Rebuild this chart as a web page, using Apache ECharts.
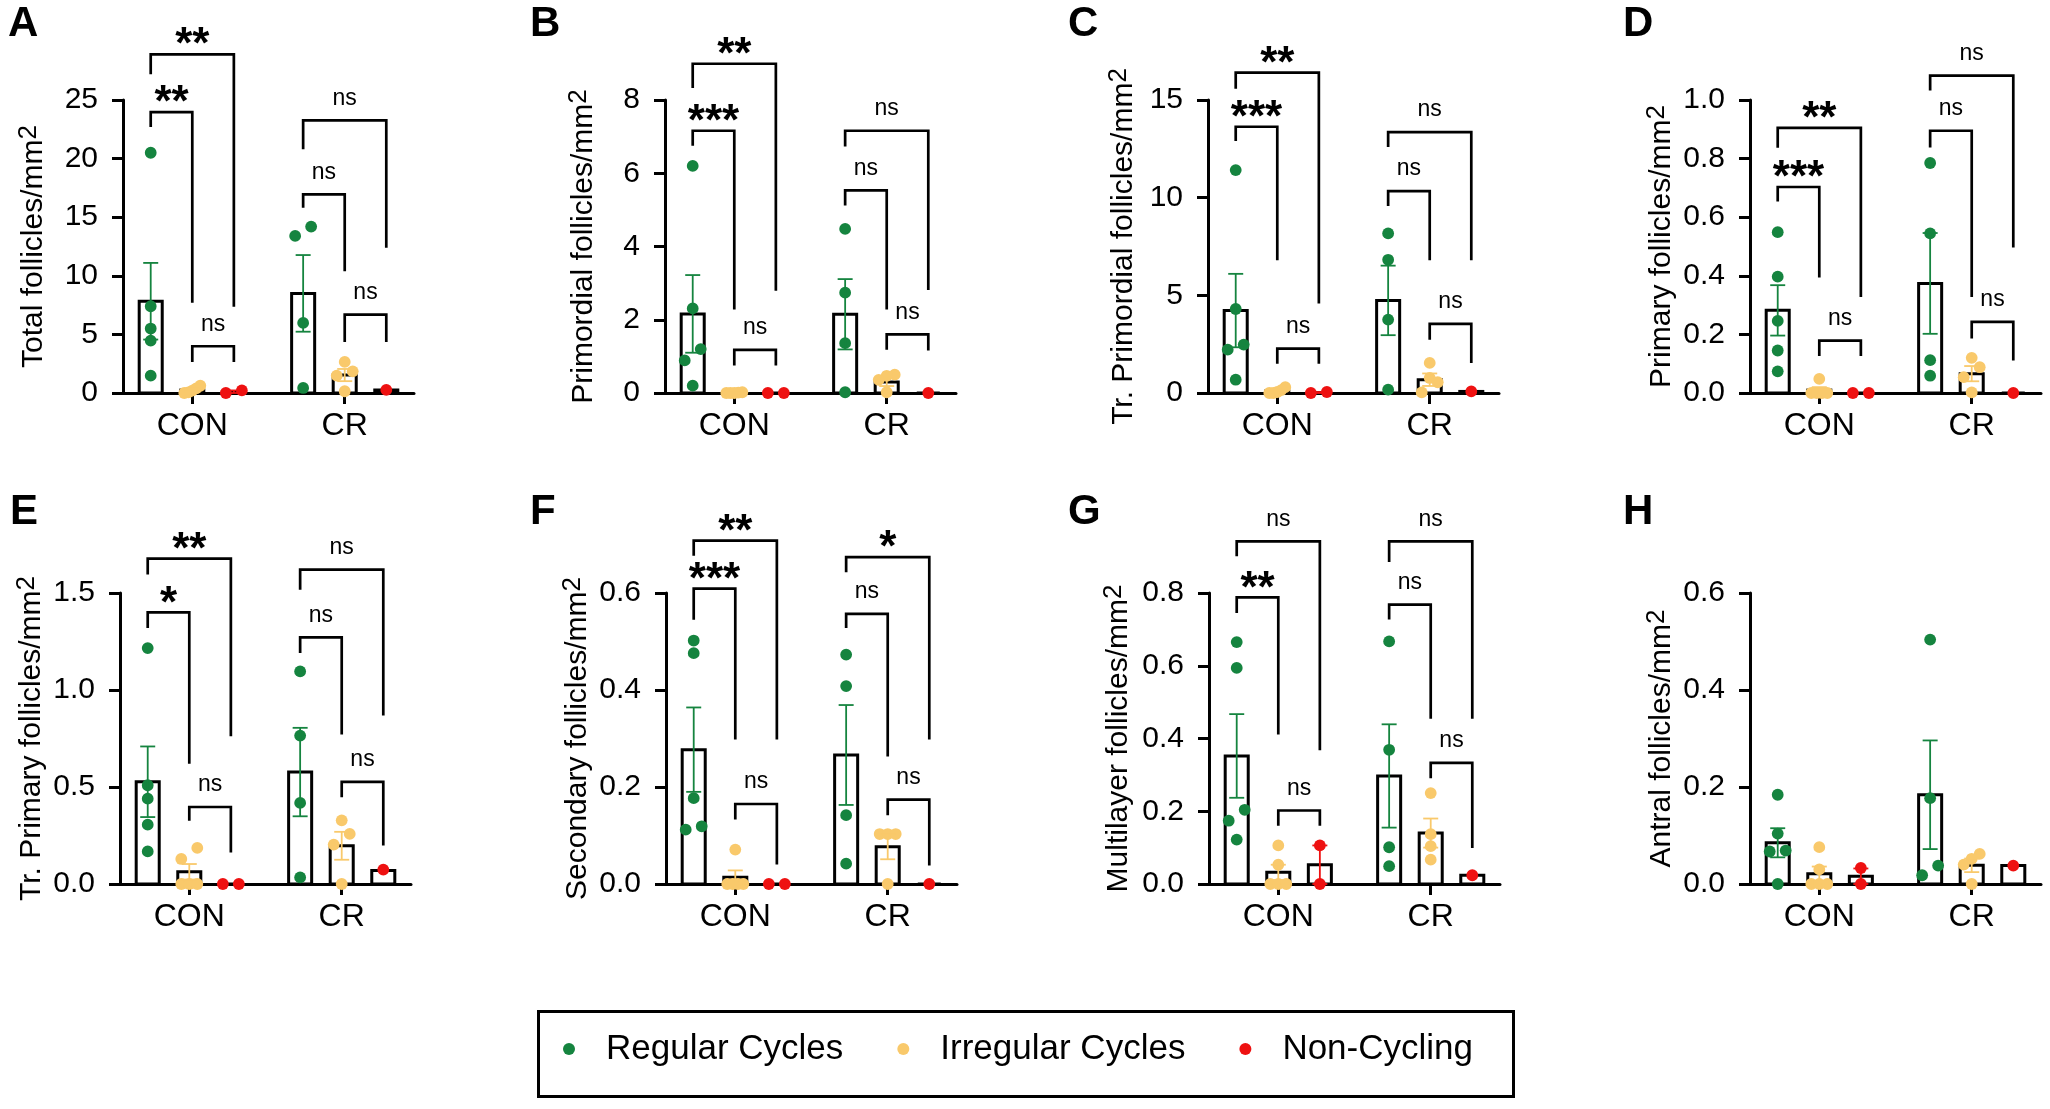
<!DOCTYPE html>
<html><head><meta charset="utf-8">
<script src="https://cdn.jsdelivr.net/npm/echarts@6/dist/echarts.min.js"></script>
<style>html,body{margin:0;padding:0;background:#fff}#c{width:2050px;height:1109px}</style>
</head><body><div id="c"></div>
<script>
// ---------------- DATA ----------------
const groups = ['CON', 'CR'];
const conditions = ['Regular Cycles', 'Irregular Cycles', 'Non-Cycling'];
const panelLetters = ['A', 'B', 'C', 'D', 'E', 'F', 'G', 'H'];
const yTitles = ['Total follicles/mm', 'Primordial follicles/mm', 'Tr. Primordial follicles/mm', 'Primary follicles/mm',
                 'Tr. Primary follicles/mm', 'Secondary follicles/mm', 'Multilayer follicles/mm', 'Antral follicles/mm'];
const yMax = [25, 8, 15, 1.0, 1.5, 0.6, 0.8, 0.6];
const yStep = [5, 2, 5, 0.2, 0.5, 0.2, 0.2, 0.2];
const yDecimals = [0, 0, 0, 1, 1, 1, 1, 1];

// means / SEM: [condition][group CON, CR]
const meanA = [[7.83, 8.5], [0.25, 1.53], [0.11, 0.26]];
const semA  = [[3.27, 3.27], [0.12, 0.52], [0.11, 0]];
const ptsA  = [[[20.5, 7.4, 5.5, 4.47, 1.48], [14.2, 13.4, 5.98, 0.43]],
               [[0.62, 0.40, 0.20, 0.05, 0.0], [2.65, 1.85, 1.48, 0.15]],
               [[0.0, 0.22], [0.26]]];

const meanB = [[2.16, 2.15], [0.006, 0.30], [0, 0]];
const semB  = [[1.06, 0.96], [0.004, 0.11], [0, 0]];
const ptsB  = [[[6.2, 2.31, 1.2, 0.89, 0.2], [4.48, 2.74, 1.36, 0.02]],
               [[0.02, 0.01, 0, 0, 0], [0.5, 0.47, 0.36, 0.02]],
               [[0, 0], [0]]];

const meanC = [[4.22, 4.74], [0.10, 0.68], [0.025, 0.08]];
const semC  = [[1.88, 1.78], [0.06, 0.32], [0.025, 0]];
const ptsC  = [[[11.41, 4.3, 2.48, 2.22, 0.68], [8.17, 6.82, 3.76, 0.17]],
               [[0.3, 0.15, 0.05, 0.0, 0.0], [1.54, 0.77, 0.55, 0.03]],
               [[0.05, 0.0], [0.08]]];

const meanD = [[0.282, 0.374], [0.01, 0.066], [0, 0]];
const semD  = [[0.086, 0.172], [0.01, 0.026], [0, 0]];
const ptsD  = [[[0.549, 0.397, 0.246, 0.145, 0.074], [0.785, 0.545, 0.112, 0.059]],
               [[0.048, 0, 0, 0, 0], [0.12, 0.088, 0.054, 0.002]],
               [[0, 0], [0]]];

const meanE = [[0.527, 0.577], [0.063, 0.197], [0, 0.07]];
const semE  = [[0.182, 0.228], [0.04, 0.072], [0, 0]];
const ptsE  = [[[1.216, 0.509, 0.44, 0.306, 0.168], [1.096, 0.765, 0.418, 0.034]],
               [[0.186, 0.129, 0, 0, 0], [0.328, 0.258, 0.203, 0.0]],
               [[0, 0], [0.074]]];

const meanF = [[0.277, 0.266], [0.014, 0.077], [0, 0]];
const semF  = [[0.087, 0.103], [0.014, 0.026], [0, 0]];
const ptsF  = [[[0.502, 0.476, 0.177, 0.119, 0.112], [0.473, 0.408, 0.142, 0.042]],
               [[0.071, 0, 0, 0, 0], [0.103, 0.103, 0.103, 0]],
               [[0, 0], [0]]];

const meanG = [[0.352, 0.297], [0.032, 0.14], [0.053, 0.024]];
const semG  = [[0.115, 0.142], [0.021, 0.04], [0.053, 0]];
const ptsG  = [[[0.665, 0.594, 0.204, 0.174, 0.122], [0.667, 0.369, 0.101, 0.049]],
               [[0.106, 0.053, 0, 0, 0], [0.25, 0.137, 0.104, 0.067]],
               [[0.106, 0], [0.024]]];

const meanH = [[0.085, 0.184], [0.021, 0.0385], [0.016, 0.038]];
const semH  = [[0.03, 0.112], [0.015, 0.014], [0.016, 0]];
const ptsH  = [[[0.184, 0.104, 0.069, 0.067, 0], [0.504, 0.177, 0.038, 0.018]],
               [[0.076, 0.03, 0, 0, 0], [0.062, 0.052, 0.04, 0]],
               [[0.033, 0], [0.038]]];

// significance brackets: [barFrom, barTo, yTop, yLeftEnd, yRightEnd, label]
const brA = [[0,2,28.9,27.2,7.35,'**'],[0,1,23.97,22.7,7.69,'**'],[1,2,3.99,2.65,2.65,'ns'],
             [3,5,23.26,20.79,12.39,'ns'],[3,4,16.94,15.8,10.39,'ns'],[4,5,6.69,4.36,4.36,'ns']];
const brB = [[0,2,8.99,8.33,2.79,'**'],[0,1,7.16,6.75,2.28,'***'],[1,2,1.18,0.75,0.75,'ns'],
             [3,5,7.16,6.73,2.81,'ns'],[3,4,5.53,5.12,2.28,'ns'],[4,5,1.6,1.18,1.16,'ns']];
const brC = [[0,2,16.4,15.58,4.58,'**'],[0,1,13.63,12.9,6.8,'***'],[1,2,2.27,1.5,1.5,'ns'],
             [3,5,13.36,12.59,6.8,'ns'],[3,4,10.34,9.57,6.8,'ns'],[4,5,3.54,2.73,1.54,'ns']];
const brD = [[0,2,0.905,0.837,0.328,'**'],[0,1,0.703,0.654,0.394,'***'],[1,2,0.179,0.126,0.126,'ns'],
             [3,5,1.083,1.032,0.497,'ns'],[3,4,0.895,0.838,0.328,'ns'],[4,5,0.243,0.186,0.111,'ns']];
const brE = [[0,2,1.677,1.595,0.761,'**'],[0,1,1.4,1.32,0.62,'*'],[1,2,0.397,0.326,0.163,'ns'],
             [3,5,1.62,1.517,0.868,'ns'],[3,4,1.271,1.191,0.77,'ns'],[4,5,0.526,0.447,0.198,'ns']];
const brF = [[0,2,0.708,0.677,0.298,'**'],[0,1,0.609,0.545,0.298,'***'],[1,2,0.165,0.133,0.04,'ns'],
             [3,5,0.674,0.643,0.298,'*'],[3,4,0.557,0.528,0.263,'ns'],[4,5,0.174,0.142,0.038,'ns']];
const brG = [[0,2,0.942,0.901,0.368,'ns'],[0,1,0.788,0.745,0.411,'**'],[1,2,0.202,0.16,0.16,'ns'],
             [3,5,0.942,0.885,0.454,'ns'],[3,4,0.768,0.727,0.454,'ns'],[4,5,0.333,0.291,0.099,'ns']];
const brH = [];

const means = [meanA, meanB, meanC, meanD, meanE, meanF, meanG, meanH];
const sems = [semA, semB, semC, semD, semE, semF, semG, semH];
const points = [ptsA, ptsB, ptsC, ptsD, ptsE, ptsF, ptsG, ptsH];
const brackets = [brA, brB, brC, brD, brE, brF, brG, brH];

// ---------------- LAYOUT / STYLE ----------------
const FONT = '"Liberation Sans", Arial, sans-serif';
const COLORS = ['#15843f', '#f9c96b', '#ee1111'];
const layout = {
  left: [123, 665, 1208, 1750, 120, 666, 1209, 1750],
  top: [100, 100, 100, 100, 593, 593, 593, 593],
  height: [293, 293, 293, 293, 291, 291, 291, 291],
  width: 291,
  nameGap: [71, 63, 66, 68, 65, 69, 72, 66],
  letterX: [8, 530, 1068, 1623, 10, 530, 1068, 1623],
  letterY: [3, 3, 3, 3, 491, 491, 491, 491]
};
const X_MAX = 7, CENTER0 = 5 / 3, GROUP_STEP = 11 / 3, BAR_HALF = 0.277;
const DOT_R = 5.9;
function barCenter(k) { const g = Math.floor(k / 3), s = k % 3; return CENTER0 + g * GROUP_STEP + (s - 1); }

function layoutDots(pys) {
  const order = pys.map((y, i) => i).sort((a, b) => pys[b] - pys[a]);
  const offs = new Array(pys.length).fill(0);
  let rows = [], cur = [];
  order.forEach(i => {
    if (cur.length && Math.abs(pys[i] - pys[cur[0]]) >= 11.5) { rows.push(cur); cur = []; }
    cur.push(i);
  });
  if (cur.length) rows.push(cur);
  rows.forEach(r => {
    const n = r.length; if (n < 2) return;
    const sp = n === 2 ? 16 : Math.min(8, 16 / (n - 1));
    r.forEach((i, k) => { offs[i] = (k - (n - 1) / 2) * sp; });
  });
  return offs;
}

function makeBarRender(p, s) {
  return function (params, api) {
    const g = api.value(0), mean = api.value(1), sem = api.value(2);
    const xc = barCenter(g * 3 + s);
    const children = [];
    const tl = api.coord([xc - BAR_HALF, mean]), br = api.coord([xc + BAR_HALF, 0]);
    children.push({ type: 'rect', shape: { x: tl[0], y: tl[1], width: br[0] - tl[0], height: br[1] - tl[1] },
      style: { fill: '#fff', stroke: '#000', lineWidth: 3 } });
    const pts = points[p][s][g];
    const cx = api.coord([xc, 0])[0];
    const pys = pts.map(v => api.coord([xc, v])[1]);
    const offs = layoutDots(pys);
    pys.forEach((py, i) => {
      children.push({ type: 'circle', shape: { cx: cx + offs[i], cy: py, r: DOT_R }, style: { fill: COLORS[s] } });
    });
    if (sem > 0) {
      const top = api.coord([xc, mean + sem])[1], bot = api.coord([xc, Math.max(0, mean - sem)])[1];
      const st = { stroke: COLORS[s], lineWidth: 1.8 };
      children.push({ type: 'line', shape: { x1: cx, y1: top, x2: cx, y2: bot }, style: st });
      children.push({ type: 'line', shape: { x1: cx - 7.5, y1: top, x2: cx + 7.5, y2: top }, style: st });
      children.push({ type: 'line', shape: { x1: cx - 7.5, y1: bot, x2: cx + 7.5, y2: bot }, style: st });
    }
    return { type: 'group', children };
  };
}

function makeBracketRender(p) {
  return function (params, api) {
    const b = brackets[p][params.dataIndex];
    const xi = barCenter(b[0]), xj = barCenter(b[1]);
    const pL = api.coord([xi, b[3]]), pT1 = api.coord([xi, b[2]]), pT2 = api.coord([xj, b[2]]), pR = api.coord([xj, b[4]]);
    const star = b[5] !== 'ns';
    return { type: 'group', children: [
      { type: 'polyline', shape: { points: [pL, pT1, pT2, pR] }, style: { fill: 'none', stroke: '#000', lineWidth: 2.7 } },
      { type: 'text', style: { text: b[5], x: (pT1[0] + pT2[0]) / 2, y: pT1[1] - (star ? 8 : 22),
          align: 'center', verticalAlign: 'middle', textAlign: 'center', textVerticalAlign: 'middle',
          font: star ? 'bold 44px ' + FONT : '23px ' + FONT, fill: '#000' } }
    ] };
  };
}

const grids = [], xAxes = [], yAxes = [], series = [], graphics = [];
for (let p = 0; p < 8; p++) {
  grids.push({ left: layout.left[p], top: layout.top[p], width: layout.width, height: layout.height[p] });
  const ticks = [CENTER0, CENTER0 + GROUP_STEP];
  xAxes.push({ gridIndex: p, type: 'value', min: 0, max: X_MAX,
    axisLine: { show: true, onZero: false, lineStyle: { color: '#000', width: 3 } },
    axisTick: { show: true, customValues: ticks, length: 11, lineStyle: { color: '#000', width: 3 } },
    axisLabel: { show: true, customValues: ticks, margin: 17, fontSize: 32, fontFamily: FONT, color: '#000',
      formatter: v => groups[Math.round((v - CENTER0) / GROUP_STEP)] },
    splitLine: { show: false } });
  yAxes.push({ gridIndex: p, type: 'value', min: 0, max: yMax[p], interval: yStep[p],
    name: yTitles[p] + '{sup|2}', nameLocation: 'middle', nameGap: layout.nameGap[p],
    nameTextStyle: { fontSize: 30, fontFamily: FONT, color: '#000', lineHeight: 36,
      rich: { sup: { fontSize: 26, lineHeight: 12, verticalAlign: 'top', fontFamily: FONT, color: '#000' } } },
    axisLine: { show: true, onZero: false, lineStyle: { color: '#000', width: 3 } },
    axisTick: { show: true, length: 11, lineStyle: { color: '#000', width: 3 } },
    axisLabel: { margin: 25, fontSize: 30, fontFamily: FONT, color: '#000', formatter: v => v.toFixed(yDecimals[p]) },
    splitLine: { show: false } });
  for (let s = 0; s < 3; s++) {
    series.push({ type: 'custom', name: conditions[s], xAxisIndex: p, yAxisIndex: p, clip: false, silent: true, z: 3 + s,
      itemStyle: { color: COLORS[s] },
      data: groups.map((gname, g) => [g, means[p][s][g], sems[p][s][g]]),
      renderItem: makeBarRender(p, s) });
  }
  if (brackets[p].length) {
    series.push({ type: 'custom', xAxisIndex: p, yAxisIndex: p, clip: false, silent: true, z: 10,
      data: brackets[p].map(b => [b[0], b[2], b[1], b[3], b[4]]),
      renderItem: makeBracketRender(p) });
  }
  graphics.push({ type: 'text', left: layout.letterX[p], top: layout.letterY[p],
    style: { text: panelLetters[p], font: 'bold 42px ' + FONT, fill: '#000' } });
}
graphics.push({ type: 'rect', shape: { x: 538.5, y: 1011.5, width: 975, height: 85 },
  style: { fill: 'none', stroke: '#000', lineWidth: 3 } });

const chart = echarts.init(document.getElementById('c'));
chart.setOption({
  animation: false,
  backgroundColor: '#fff',
  grid: grids, xAxis: xAxes, yAxis: yAxes, series: series, graphic: graphics,
  legend: { left: 563, top: 1029, padding: 0, itemWidth: 64, itemHeight: 12, itemGap: 54, icon: 'circle', selectedMode: false,
    textStyle: { fontSize: 35, fontFamily: FONT, color: '#000', lineHeight: 40 },
    data: conditions.map((n, i) => ({ name: n, itemStyle: { color: COLORS[i] } })) }
});
</script></body></html>
